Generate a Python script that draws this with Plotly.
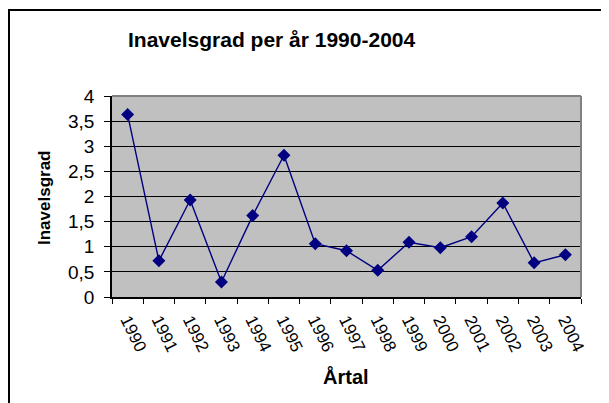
import plotly.graph_objects as go

years = ["1990", "1991", "1992", "1993", "1994", "1995", "1996", "1997",
         "1998", "1999", "2000", "2001", "2002", "2003", "2004"]
inavelsgrad = [3.63, 0.72, 1.93, 0.30, 1.62, 2.82, 1.06, 0.92,
               0.53, 1.09, 0.98, 1.20, 1.87, 0.68, 0.84]
y_tickvals = [0, 0.5, 1, 1.5, 2, 2.5, 3, 3.5, 4]
y_ticktext = ["0", "0,5", "1", "1,5", "2", "2,5", "3", "3,5", "4"]

title_text = "Inavelsgrad per år 1990-2004"
x_title = "Årtal"
y_title = "Inavelsgrad"

OFF = 8  # page offset of the figure in the browser window
W, H = 609, 403
# target plot area in window pixels: x 112..581, y 96..297
L = 112 - OFF
T = 96 - OFF
R = W - (581 - OFF)
B = H - (297 - OFF)
pw, ph = W - L - R, H - T - B

def px(x):
    return (x - OFF - L) / pw

def py(y):
    return (H - B - (y - OFF)) / ph

font = "Liberation Sans, Arial, sans-serif"

fig = go.Figure()
fig.add_trace(go.Scatter(
    x=years, y=inavelsgrad, mode="lines+markers",
    line=dict(color="#000080", width=1.4),
    marker=dict(symbol="diamond", size=10, color="#000080"),
    cliponaxis=False,
))

fig.update_layout(
    width=W, height=H,
    margin=dict(l=L, r=R, t=T, b=B, pad=0),
    paper_bgcolor="white",
    plot_bgcolor="#C0C0C0",
    showlegend=False,
    font=dict(family=font, color="black", size=15),
    xaxis=dict(
        type="category", tickson="boundaries", ticks="outside", ticklen=5,
        tickcolor="black", tickwidth=1, showline=True, linecolor="black",
        linewidth=1.5, showgrid=False, tickangle=64, ticklabelstandoff=5,
        tickfont=dict(size=17, family=font), range=[-0.5, 14.5],
    ),
    yaxis=dict(
        range=[0, 4], tickvals=y_tickvals, ticktext=y_ticktext,
        ticks="outside", ticklen=6, tickcolor="black", showline=True,
        linecolor="black", linewidth=1.5, showgrid=True, gridcolor="black",
        gridwidth=1, zeroline=False, tickfont=dict(size=19, family=font),
        ticklabelstandoff=6,
    ),
    shapes=[
        dict(type="line", xref="paper", yref="paper", x0=0, x1=1, y0=1, y1=1,
             line=dict(color="#808080", width=2)),
        dict(type="line", xref="paper", yref="paper", x0=1, x1=1, y0=0, y1=1,
             line=dict(color="#808080", width=2)),
        dict(type="rect", xref="paper", yref="paper", x0=px(9), x1=px(700),
             y0=py(500), y1=py(10), line=dict(color="black", width=2),
             fillcolor="rgba(0,0,0,0)"),
    ],
    annotations=[
        dict(text="<b>" + title_text + "</b>", xref="paper", yref="paper",
             x=px(272), y=py(40), showarrow=False, xanchor="center",
             yanchor="middle", font=dict(size=21, family=font)),
        dict(text="<b>" + x_title + "</b>", xref="paper", yref="paper",
             x=px(346), y=py(376), showarrow=False, xanchor="center",
             yanchor="middle", font=dict(size=20, family=font)),
        dict(text="<b>" + y_title + "</b>", xref="paper", yref="paper",
             x=px(44), y=py(198), showarrow=False, xanchor="center",
             yanchor="middle", textangle=-90, font=dict(size=17, family=font)),
    ],
)

fig.write_html("out.html")
